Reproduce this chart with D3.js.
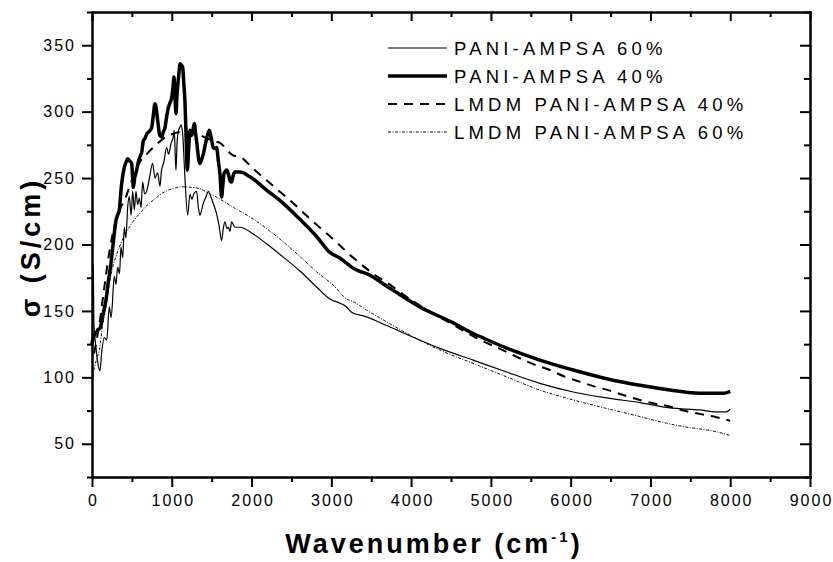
<!DOCTYPE html>
<html>
<head>
<meta charset="utf-8">
<script src="https://cdn.jsdelivr.net/npm/d3@7"></script>
<style>
  body { margin:0; background:#fff; }
  svg { display:block; font-family:'Liberation Sans', Arial, sans-serif; }
</style>
</head>
<body>
<div class="canvas"></div>
<script>
// ---- data: [wavenumber, sigma] ----
const seriesNames = ['PANI-AMPSA 60%', 'PANI-AMPSA 40%', 'LMDM PANI-AMPSA 40%', 'LMDM PANI-AMPSA 60%'];

const pani60 = [[16,185],[24,140],[45,125],[70,112],[100,105],[120,118],[155,130],[185,128],[217,153],[240,145],
  [280,176],[300,170],[322,183],[345,178],[363,198],[385,190],[405,213],[425,205],[447,228],[468,236],[490,222],
  [510,240],[530,226],[551,240],[572,230],[593,235],[615,228],[635,247],[660,238],[698,243],[720,250],[760,261],
  [790,250],[823,254],[852,244],[870,255],[900,262],[936,273],[960,268],[990,276],[1019,281],[1031,286],[1045,265],
  [1053,256],[1065,275],[1081,285],[1100,288],[1115,290],[1137,283],[1165,250],[1199,222],[1228,238],[1253,234],
  [1275,238],[1311,240],[1333,228],[1353,222],[1375,226],[1395,231],[1430,236],[1458,240],[1490,236],[1520,231],
  [1562,223],[1590,215],[1625,203],[1645,212],[1667,217],[1690,212],[1708,213],[1730,210],[1750,217],[1792,213],
  [1855,213],[2021,208],[2188,200.5],[2397,190.5],[2606,180],[2815,168],[2982,159],[3100,156],[3191,153],[3254,149],
  [3442,145.5],[3693,139],[4110,128],[4361,121.8],[4778,113],[5197,104],[5614,95.5],[6032,89],[6450,84.5],[6867,81],
  [7243,77],[7619,75.5],[7828,74],[7950,74],[8000,76]];

const pani40 = [[0,125],[8,128],[30,132],[50,133],[75,136],[100,137],[140,148],[175,158],[205,172],[238,186],[270,203],
  [300,218],[320,222],[342,226],[370,245],[405,258],[427,262],[447,264.5],[470,263],[497,261],[510,250],[518,243],
  [535,250],[560,256],[580,262],[602,266],[625,270],[643,278],[665,280],[685,283],[715,285],[748,288],[770,298],
  [789,306],[800,304],[830,290],[850,282],[873,281],[895,285],[915,288],[935,296],[957,303],[980,307],[998,310],
  [1015,318],[1028,326],[1040,312],[1053,298.5],[1065,312],[1081,323.5],[1095,332],[1103,336],[1120,335],[1136,333.5],
  [1150,322],[1165,308],[1180,280],[1195,256],[1210,270],[1228,286],[1245,282],[1257,283],[1282,291],[1300,283],
  [1320,273],[1340,263],[1353,261],[1375,264],[1395,268],[1430,278],[1470,286],[1495,280],[1520,273],[1545,272],
  [1562,273],[1585,262],[1604,253],[1625,235.7],[1640,245],[1654,253],[1670,255],[1688,256],[1710,253],[1730,248],
  [1750,247],[1770,252],[1792,254.5],[1855,254.5],[1980,251],[2188,241],[2397,231],[2606,219],[2815,206],[2982,194],
  [3100,190],[3191,186],[3254,183],[3350,180],[3442,178],[3734,167],[4110,153],[4528,141],[4778,133],[4946,128.5],
  [5197,122],[5614,113],[6032,105.5],[6450,99],[6867,94],[7243,90.5],[7619,88],[7911,88],[8000,89.5]];

const lmdm40 = [[25,118],[92,140],[155,168],[196,186],[259,208],[340,225],[426,236],[497,248],[551,256],[600,262],
  [685,268],[768,273],[894,279.6],[1000,283],[1150,285],[1250,285],[1400,281],[1520,278],[1604,276.5],[1771,267],
  [1855,266],[2021,257],[2272,244],[2523,231],[2774,217],[3024,204],[3275,190],[3526,178],[3776,168],[3943,160.6],
  [4110,154],[4500,140.5],[4904,127],[5113,121.5],[5322,115.5],[5531,110],[5739,105.5],[5906,101],[6115,96.7],[6282,93.4],
  [6491,90],[6658,86.7],[6867,83],[7034,80.5],[7243,78],[7410,75],[7620,72.5],[7828,70],[8000,67.3]];

const lmdm60 = [[10,100],[29,107],[60,114],[92,120.5],[130,138],[175,153],[215,169],[259,183],[300,191],[342,198],
  [400,206],[468,213],[530,218.5],[593,223],[650,227],[718,231],[780,234],[843,237],[920,240],[1010,242],[1144,243.5],
  [1250,243],[1353,242],[1450,239],[1562,235.7],[1771,228],[1980,220.7],[2188,212],[2397,202],[2606,191],[2815,179.4],
  [3024,169.4],[3191,159],[3275,157],[3442,150.6],[3693,141.8],[4027,130.5],[4361,120.5],[4778,110.5],[5197,100.4],
  [5614,90.4],[6032,83],[6450,76.6],[6867,70.5],[7200,65.5],[7410,63],[7828,59],[8000,56.3]];

// tick values
const xMajorTicks = [0,1000,2000,3000,4000,5000,6000,7000,8000,9000];
const xMinorTicks = [500,1500,2500,3500,4500,5500,6500,7500,8500];
const yMajorTicks = [50,100,150,200,250,300,350];
const yMinorTicks = [25,75,125,175,225,275,325,375];

const margin = { top:12, right:23, bottom:85, left:92 };
const graphWidth = 833 - margin.left - margin.right;
const graphHeight = 562 - margin.top - margin.bottom;

const svg = d3.select('.canvas')
              .append('svg')
              .attr('width', 833)
              .attr('height', 562);

const graph = svg.append('g')
                 .attr('transform', `translate(${margin.left}, ${margin.top})`);

// scales
const x = d3.scaleLinear().domain([0, 9000]).range([0, graphWidth]);
const y = d3.scaleLinear().domain([25, 375]).range([graphHeight, 0]);

// line styles per series (same order as seriesNames)
const styles = [
  { data: pani60, width: 1.2, dash: null,          color: '#000' },
  { data: pani40, width: 3.5, dash: null,          color: '#000' },
  { data: lmdm40, width: 2,   dash: '9,7',         color: '#000' },
  { data: lmdm60, width: 1,   dash: '3,1.5,1,1.5', color: '#111' }
];

const line = d3.line()
               .x(d => x(d[0]))
               .y(d => y(d[1]))
               .curve(d3.curveMonotoneX);

graph.selectAll('path.series')
     .data(styles)
     .enter()
     .append('path')
       .attr('class', 'series')
       .attr('fill', 'none')
       .attr('stroke', d => d.color)
       .attr('stroke-width', d => d.width)
       .attr('stroke-dasharray', d => d.dash)
       .attr('stroke-linejoin', 'round')
       .attr('d', d => line(d.data));

// axes: major + minor on every side, labels only bottom/left
const addAxis = (axis, transform) => {
  const g = graph.append('g').attr('transform', transform).call(axis);
  g.selectAll('path.domain, line').attr('stroke', '#000').attr('stroke-width', 2);
  g.select('path.domain').attr('stroke-linecap', 'square');
  g.selectAll('text').attr('fill', '#000').style('font-size', '16px').style('letter-spacing', '2px')
   .style('font-family', "'Liberation Sans', Arial, sans-serif");
  return g;
};

addAxis(d3.axisBottom(x).tickValues(xMajorTicks).tickSize(10).tickSizeOuter(0).tickPadding(8).tickFormat(d3.format('d')), `translate(0, ${graphHeight})`)
  .selectAll('text').attr('dx', '1px');
addAxis(d3.axisBottom(x).tickValues(xMinorTicks).tickSize(5).tickSizeOuter(0).tickFormat(''), `translate(0, ${graphHeight})`);
addAxis(d3.axisTop(x).tickValues(xMajorTicks).tickSize(-9).tickSizeOuter(0).tickFormat(''), 'translate(0,0)');
addAxis(d3.axisTop(x).tickValues(xMinorTicks).tickSize(-5).tickSizeOuter(0).tickFormat(''), 'translate(0,0)');

addAxis(d3.axisLeft(y).tickValues(yMajorTicks).tickSize(10).tickSizeOuter(0).tickPadding(6), 'translate(0,0)');
addAxis(d3.axisLeft(y).tickValues(yMinorTicks).tickSize(5).tickSizeOuter(0).tickFormat(''), 'translate(0,0)');
addAxis(d3.axisRight(y).tickValues(yMajorTicks).tickSize(-10).tickSizeOuter(0).tickFormat(''), `translate(${graphWidth},0)`);
addAxis(d3.axisRight(y).tickValues(yMinorTicks).tickSize(-6).tickSizeOuter(0).tickFormat(''), `translate(${graphWidth},0)`);

// legend
const legend = svg.append('g').attr('class', 'legend');
const rows = legend.selectAll('g')
                   .data(styles)
                   .enter()
                   .append('g')
                   .attr('transform', (d, i) => `translate(388, ${48 + i * 28})`);

rows.append('line')
    .attr('x1', 0).attr('x2', 59)
    .attr('stroke', d => d.color)
    .attr('stroke-width', d => d.width)
    .attr('stroke-dasharray', d => d.dash);

rows.append('text')
    .attr('x', 66)
    .attr('dy', '0.36em')
    .style('font-size', '18.5px')
    .style('letter-spacing', '4.2px')
    .text((d, i) => seriesNames[i]);

// axis titles
const xTitle = svg.append('text')
                  .attr('x', 434)
                  .attr('y', 553)
                  .attr('text-anchor', 'middle')
                  .style('font-size', '27px')
                  .style('font-weight', 'bold')
                  .style('letter-spacing', '3px');
xTitle.append('tspan').text('Wavenumber (cm');
xTitle.append('tspan').attr('dy', -11).style('font-size', '15px').text('-1');
xTitle.append('tspan').attr('dy', 11).text(')');

svg.append('text')
   .attr('transform', 'translate(40, 247) rotate(-90)')
   .attr('text-anchor', 'middle')
   .style('font-size', '27px')
   .style('font-weight', 'bold')
   .style('letter-spacing', '4px')
   .text('σ (S/cm)');
</script>
</body>
</html>
